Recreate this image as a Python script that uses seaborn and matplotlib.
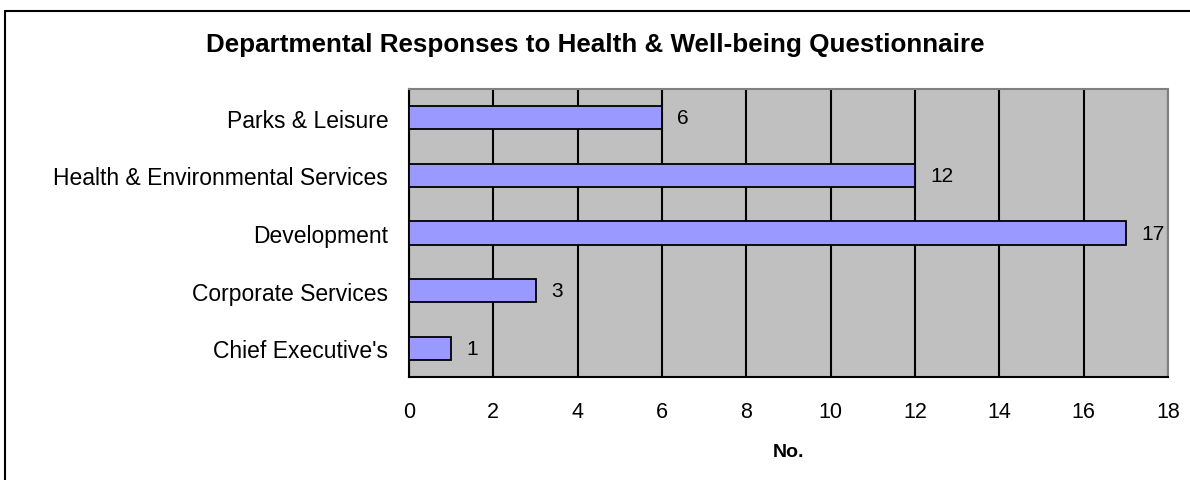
import matplotlib
matplotlib.use("Agg")
import matplotlib.pyplot as plt
import seaborn as sns
import pandas as pd
import numpy as np
from matplotlib.lines import Line2D

departments = ["Parks & Leisure", "Health & Environmental Services", "Development",
               "Corporate Services", "Chief Executive's"]
responses = [6, 12, 17, 3, 1]
x_ticks = [0, 2, 4, 6, 8, 10, 12, 14, 16, 18]
title = "Departmental Responses to Health & Well-being Questionnaire"
x_label = "No."

sns.set_theme(style="white")
plt.rcParams['font.family'] = ['Liberation Sans', 'DejaVu Sans']
plt.rcParams['text.color'] = 'black'
plt.rcParams['axes.labelcolor'] = 'black'
plt.rcParams['xtick.color'] = 'black'
plt.rcParams['ytick.color'] = 'black'

df = pd.DataFrame({"Department": departments, "No.": responses})

fig = plt.figure(figsize=(11.9, 4.81), dpi=100)
ax = fig.add_axes([409/1190, 1 - 378/481, (1168 - 409)/1190, (378 - 90)/481])

sns.barplot(data=df, y="Department", x="No.", order=departments, orient="h",
            color="#9999FF", saturation=1, edgecolor="black", linewidth=1.3,
            width=0.4, ax=ax, zorder=3)

ax.set_facecolor("#C0C0C0")
ax.set_xlim(0, 18)
ax.set_ylim(len(departments) - 0.5, -0.5)
ax.set_xticks(x_ticks)
ax.set_xticklabels([str(t) for t in x_ticks], fontsize=15.5)
ax.xaxis.grid(True, color="black", linewidth=1.5, zorder=1)
ax.set_axisbelow(True)

ax.tick_params(axis="y", which="major", length=0, labelsize=16.5, pad=15)
ax.set_yticks(np.arange(-0.5, len(departments), 1.0), minor=True)
ax.tick_params(axis="y", which="minor", length=6, width=1.3, color="black", direction="out")
ax.tick_params(axis="x", which="major", length=6, width=1.3, color="black", direction="out", pad=11)

ax.set_ylabel("")
ax.set_xlabel(x_label, fontsize=14, fontweight="bold", labelpad=15.5)

for side in ["left", "bottom"]:
    ax.spines[side].set_color("black")
    ax.spines[side].set_linewidth(1.5)
for side in ["top", "right"]:
    ax.spines[side].set_color("#808080")
    ax.spines[side].set_linewidth(1.5)

for i, v in enumerate(responses):
    ax.annotate(str(v), xy=(v, i), xytext=(11, 0), textcoords="offset points",
                va="center", ha="left", fontsize=15, color="black")

fig.text(595/1190, 1 - 45/481, title, ha="center", va="center",
         fontsize=18.7, fontweight="bold")

fig.add_artist(Line2D([5/1190, 5/1190], [0, 1 - 12/481], transform=fig.transFigure,
                      color="black", linewidth=1.5))
fig.add_artist(Line2D([5/1190, 1], [1 - 12/481, 1 - 12/481], transform=fig.transFigure,
                      color="black", linewidth=1.5))

fig.savefig("out.png", dpi=100, facecolor="white")
